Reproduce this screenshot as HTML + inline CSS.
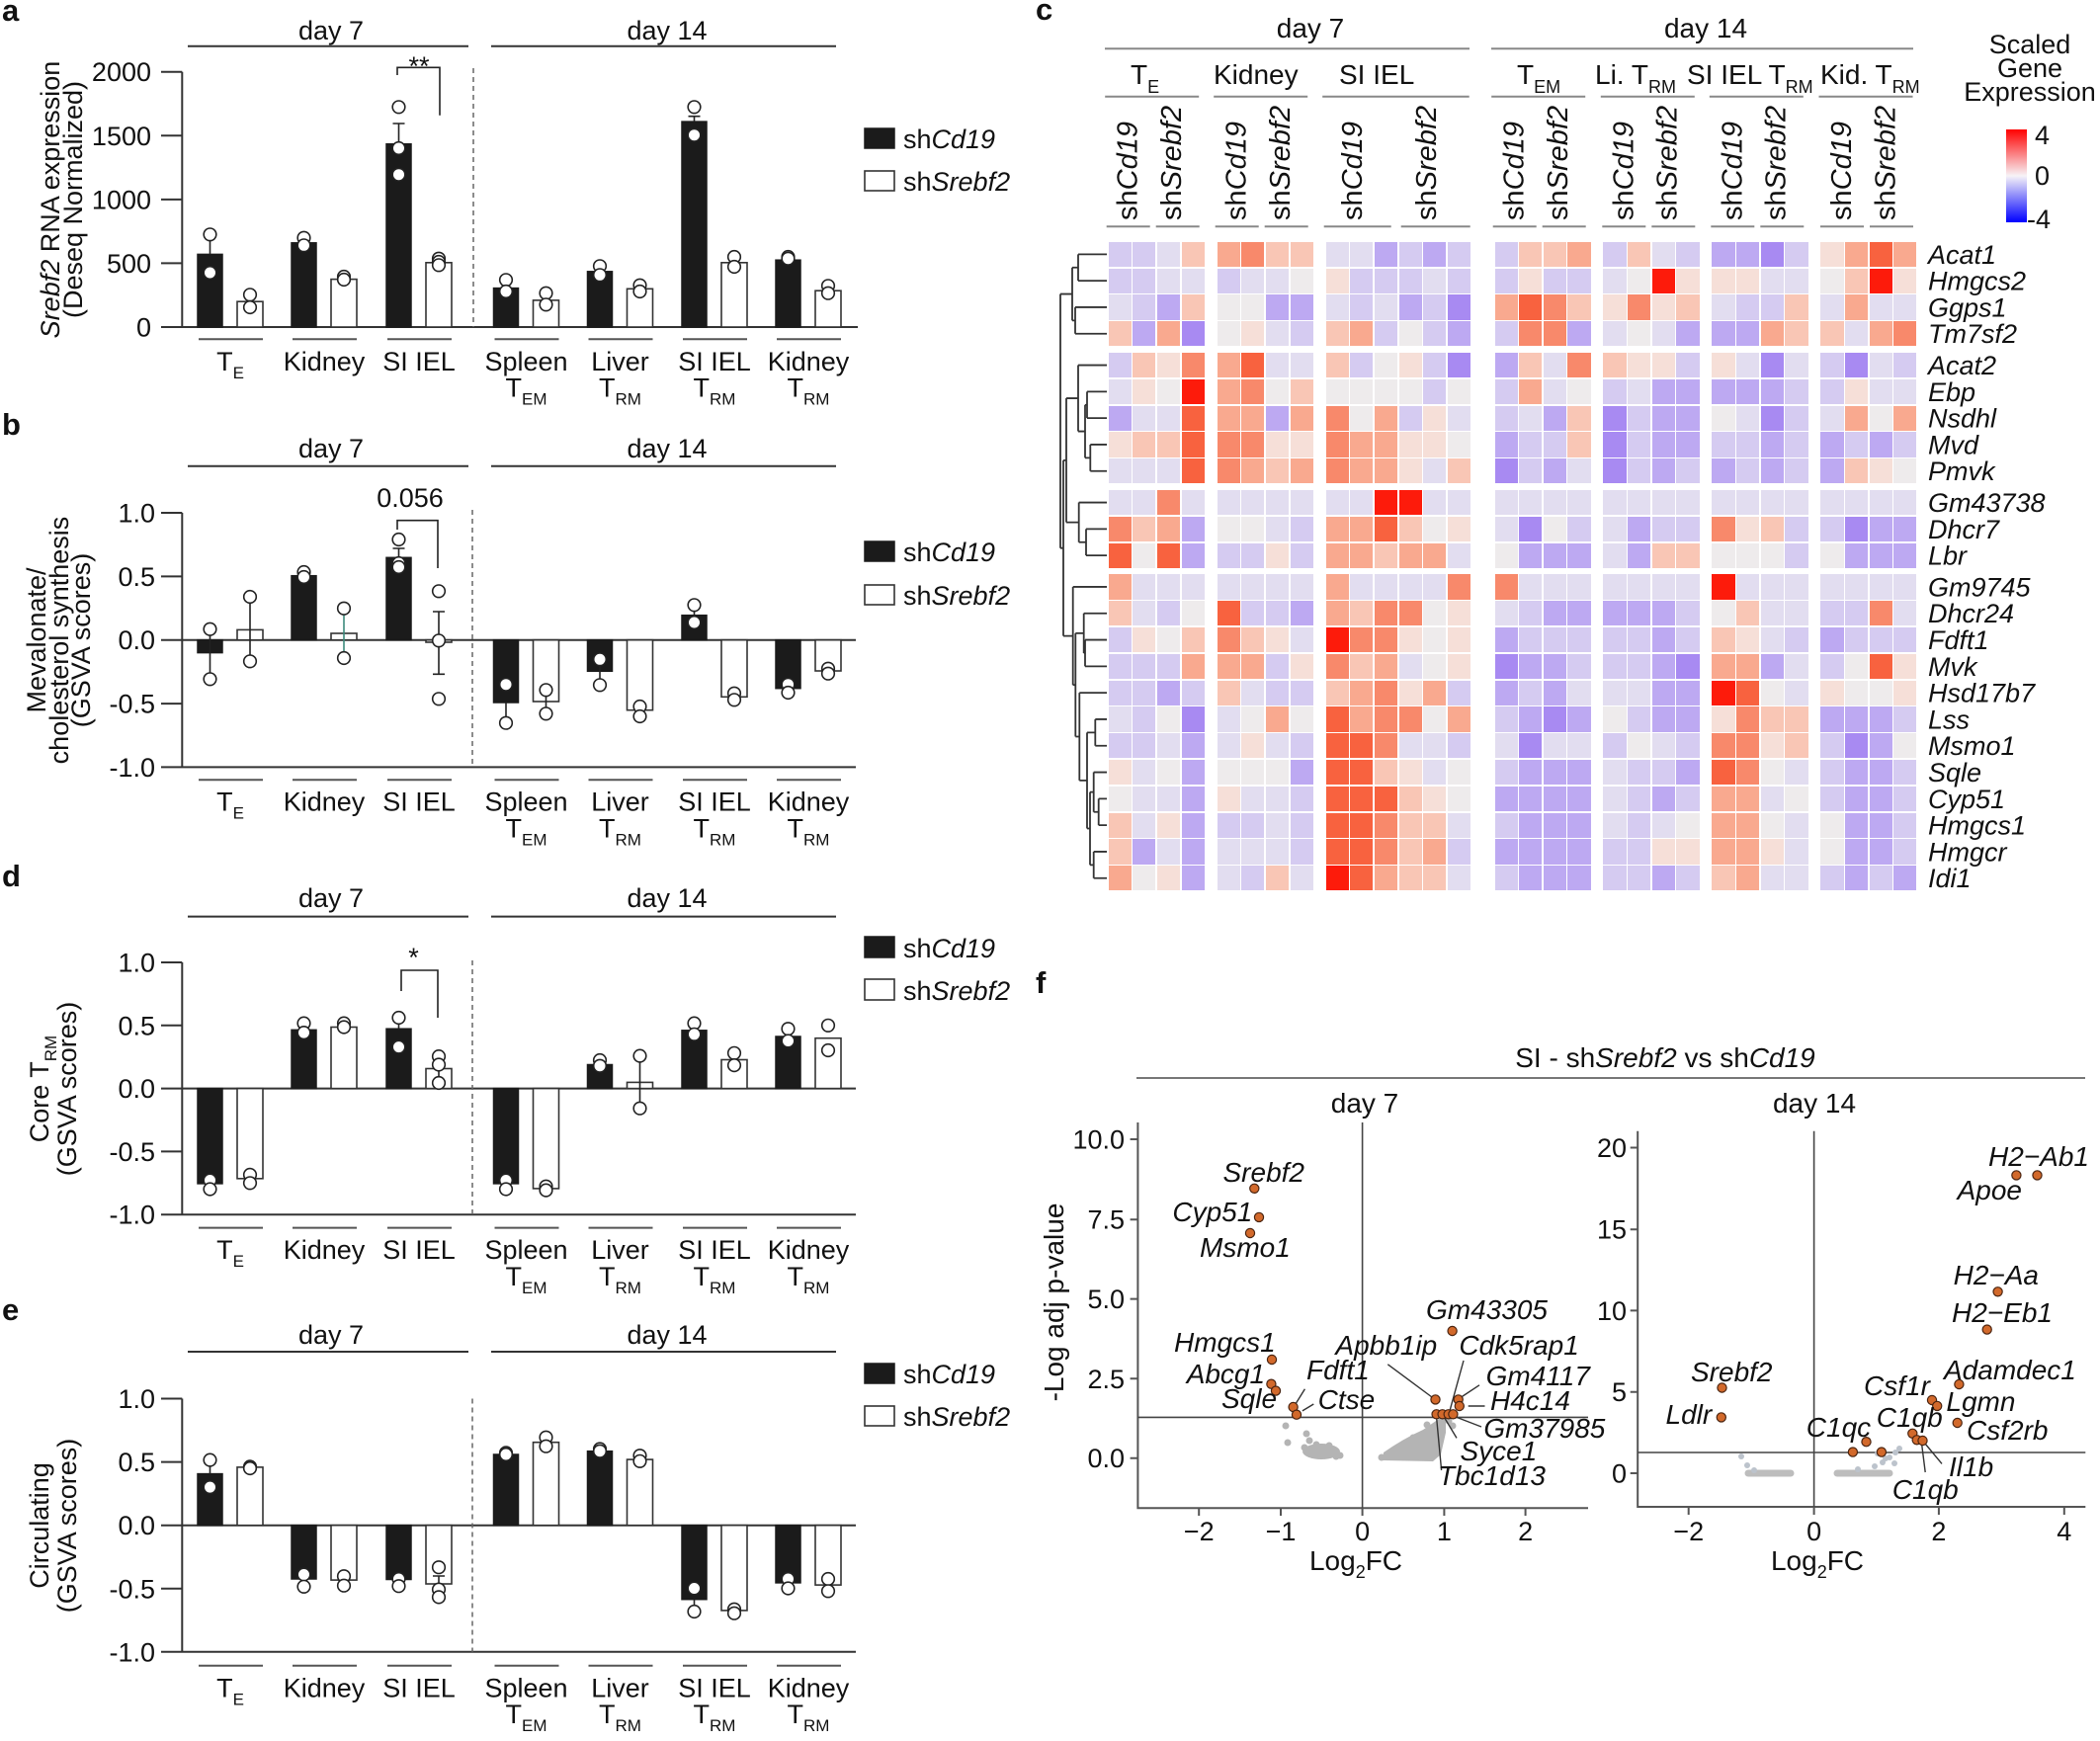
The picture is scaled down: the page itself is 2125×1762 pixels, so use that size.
<!DOCTYPE html>
<html><head><meta charset="utf-8"><style>
body{margin:0;background:#fff}
#w{position:relative;width:2125px;height:1762px;overflow:hidden;background:#fff}
svg{position:absolute;left:0;top:0}
text{font-family:"Liberation Sans",Arial,sans-serif;font-size:27px;fill:#111}
.m{text-anchor:middle}.e{text-anchor:end}.it{font-style:italic}
.pl{font-weight:bold;font-size:31px}
.ax{stroke:#333;stroke-width:2;fill:none}
.ln{stroke:#333;stroke-width:2;fill:none}
.gl{stroke:#555;stroke-width:2;fill:none}
.dash{stroke:#666;stroke-width:1.5;stroke-dasharray:5 4;fill:none}
.bk{fill:#1b1b1b;stroke:#1b1b1b;stroke-width:1.5}
.wh{fill:#fff;stroke:#333;stroke-width:1.6}
.pt{fill:#fff;stroke:#222;stroke-width:1.6}
.eb{stroke:#222;stroke-width:1.6;fill:none}
.hl{stroke:#888;stroke-width:2;fill:none}
.fx{stroke:#555;stroke-width:2;fill:none}
.op{fill:#d2692b;stroke:#4a2410;stroke-width:1.2}
.gp{fill:#b4b4b4}
.cn{stroke:#333;stroke-width:1.4;fill:none}
.f28{font-size:28px}
.cl{font-size:29px}
#hm{position:absolute;left:1121.7px;top:0}
#hm div{position:absolute;left:0;display:flex;height:25.3px}
#hm i{display:block;flex:none;width:23.15px;height:25.3px;margin-right:1.5px}
#hm i:nth-child(4),#hm i:nth-child(8),#hm i:nth-child(18),#hm i:nth-child(22),#hm i:nth-child(26){margin-right:12.9px}
#hm i:nth-child(14){margin-right:24.6px}
.a{background:#a88af2}.b{background:#bda9f2}.c{background:#d5cbf1}.d{background:#e2ddf0}.e{background:#eeebec}
.f{background:#f6dfd8}.g{background:#f9c6b5}.h{background:#f9a98f}.i{background:#f8896b}.j{background:#f8623f}.k{background:#fd1b0b}
</style></head><body><div id="w">
<svg width="2125" height="1762" viewBox="0 0 2125 1762">
<defs><linearGradient id="cb" x1="0" y1="0" x2="0" y2="1"><stop offset="0" stop-color="#ff0000"/><stop offset="0.5" stop-color="#f7f3f7"/><stop offset="1" stop-color="#0000ff"/></linearGradient></defs>

<!-- ================= PANEL A ================= -->
<text class="pl" x="2" y="21">a</text>
<text x="335" y="40" class="m">day 7</text>
<text x="675" y="40" class="m">day 14</text>
<path d="M190,46.7H474M497,46.7H846" class="ln"/>
<path d="M184.3,72.7V331M163,331H868M163,72.7H184.3M163,137.3H184.3M163,201.9H184.3M163,266.4H184.3" class="ax"/>
<path d="M479,69V331" class="dash"/>
<text x="153" y="82" class="e">2000</text><text x="153" y="146.8" class="e">1500</text><text x="153" y="211.4" class="e">1000</text><text x="153" y="275.9" class="e">500</text><text x="153" y="340.5" class="e">0</text>
<text transform="translate(60,202) rotate(-90)" class="m"><tspan class="it">Srebf2</tspan> RNA expression</text>
<text transform="translate(83,202) rotate(-90)" class="m">(Deseq Normalized)</text>
<rect x="200" y="257.4" width="25" height="73.6" class="bk"/><rect x="240" y="305.2" width="26" height="25.8" class="wh"/>
<rect x="295" y="245.8" width="25" height="85.2" class="bk"/><rect x="335" y="282.6" width="26" height="48.4" class="wh"/>
<rect x="391" y="145.7" width="25" height="185.3" class="bk"/><rect x="431" y="265.8" width="26" height="65.2" class="wh"/>
<rect x="499.5" y="291.6" width="25" height="39.4" class="bk"/><rect x="539.5" y="303.9" width="26" height="27.1" class="wh"/>
<rect x="594.5" y="274.8" width="25" height="56.2" class="bk"/><rect x="634.5" y="292.3" width="26" height="38.7" class="wh"/>
<rect x="690" y="123.1" width="25" height="207.9" class="bk"/><rect x="730" y="265.8" width="26" height="65.2" class="wh"/>
<rect x="785" y="263.2" width="25" height="67.8" class="bk"/><rect x="825" y="294.2" width="26" height="36.8" class="wh"/>
<path d="M212.5,257.4V237M206.5,237H218.5M403.5,145.7V125M397.5,125H409.5M702.5,123V117.7M696.5,117.7H708.5" class="eb"/>
<g class="pt">
<circle cx="212.5" cy="237.3" r="6.3"/><circle cx="212.5" cy="276" r="6.3"/><circle cx="253" cy="298.3" r="6.3"/><circle cx="253" cy="311" r="6.3"/>
<circle cx="307.5" cy="240.7" r="6.3"/><circle cx="307.5" cy="248.3" r="6.3"/><circle cx="348" cy="280" r="6.3"/><circle cx="348" cy="283" r="6.3"/>
<circle cx="403.5" cy="108.3" r="6.3"/><circle cx="403.5" cy="150" r="6.3"/><circle cx="403.5" cy="176.7" r="6.3"/><circle cx="444" cy="261.7" r="6.3"/><circle cx="444" cy="265" r="6.3"/><circle cx="444" cy="268.3" r="6.3"/>
<circle cx="512" cy="283.3" r="6.3"/><circle cx="512" cy="295" r="6.3"/><circle cx="552.5" cy="296.7" r="6.3"/><circle cx="552.5" cy="308.3" r="6.3"/>
<circle cx="607" cy="269.3" r="6.3"/><circle cx="607" cy="278.3" r="6.3"/><circle cx="647.5" cy="288.7" r="6.3"/><circle cx="647.5" cy="295" r="6.3"/>
<circle cx="702.5" cy="108.3" r="6.3"/><circle cx="702.5" cy="136.7" r="6.3"/><circle cx="743" cy="260" r="6.3"/><circle cx="743" cy="270" r="6.3"/>
<circle cx="797.5" cy="260" r="6.3"/><circle cx="797.5" cy="261.7" r="6.3"/><circle cx="838" cy="289.3" r="6.3"/><circle cx="838" cy="296.7" r="6.3"/>
</g>
<text x="424" y="76" class="m">**</text>
<path d="M402,76V68.3H445V116.7" class="eb"/>
<path d="M201,343.3H266M296,343.3H361M392,343.3H457M500.5,343.3H565.5M595.5,343.3H660.5M691,343.3H756M786,343.3H851" class="gl"/>
<text x="233" y="375" class="m">T<tspan font-size="17" dy="8">E</tspan></text>
<text x="328" y="375" class="m">Kidney</text><text x="424" y="375" class="m">SI IEL</text>
<text x="532.5" y="375" class="m">Spleen</text><text x="627.5" y="375" class="m">Liver</text><text x="723" y="375" class="m">SI IEL</text><text x="818" y="375" class="m">Kidney</text>
<text x="532.5" y="401.7" class="m">T<tspan font-size="17" dy="8">EM</tspan></text><text x="627.5" y="401.7" class="m">T<tspan font-size="17" dy="8">RM</tspan></text><text x="723" y="401.7" class="m">T<tspan font-size="17" dy="8">RM</tspan></text><text x="818" y="401.7" class="m">T<tspan font-size="17" dy="8">RM</tspan></text>
<rect x="875" y="130" width="30" height="20" class="bk"/><text x="914" y="150">sh<tspan class="it">Cd19</tspan></text>
<rect x="875" y="173" width="30" height="20" class="wh"/><text x="914" y="193">sh<tspan class="it">Srebf2</tspan></text>

<!-- ================= PANEL B ================= -->
<text class="pl" x="2" y="440">b</text>
<text x="335" y="463" class="m">day 7</text>
<text x="675" y="463" class="m">day 14</text>
<path d="M190,471.7H474M497,471.7H846" class="ln"/>
<path d="M184.3,519V776.4M163,647.7H866M163,776.4H866M163,519H184.3M163,583.4H184.3M163,712.1H184.3" class="ax"/>
<path d="M478,516V776.4" class="dash"/>
<text x="157" y="528.5" class="e">1.0</text><text x="157" y="592.9" class="e">0.5</text><text x="157" y="657.2" class="e">0.0</text><text x="157" y="721.6" class="e">-0.5</text><text x="157" y="785.9" class="e">-1.0</text>
<text transform="translate(46,648) rotate(-90)" class="m">Mevalonate/</text>
<text transform="translate(69,648) rotate(-90)" class="m">cholesterol synthesis</text>
<text transform="translate(91,648) rotate(-90)" class="m">(GSVA scores)</text>
<rect x="200" y="647.7" width="25" height="12.9" class="bk"/><rect x="240" y="637.4" width="26" height="10.3" class="wh"/>
<rect x="295" y="582.7" width="25" height="65" class="bk"/><rect x="335" y="641" width="26" height="6.7" class="wh"/>
<rect x="391" y="564.3" width="25" height="83.4" class="bk"/><rect x="431" y="647.7" width="26" height="2.3" class="wh"/>
<rect x="499.5" y="647.7" width="25" height="63.3" class="bk"/><rect x="539.5" y="647.7" width="26" height="62.3" class="wh"/>
<rect x="594.5" y="647.7" width="25" height="31.6" class="bk"/><rect x="634.5" y="647.7" width="26" height="71" class="wh"/>
<rect x="690" y="622.7" width="25" height="25" class="bk"/><rect x="730" y="647.7" width="26" height="57.6" class="wh"/>
<rect x="785" y="647.7" width="25" height="49" class="bk"/><rect x="825" y="647.7" width="26" height="31.3" class="wh"/>
<path d="M212.5,636.7V687.3M253,604V669.3M403.5,564.3V555M397.5,555H409.5M444,619V682.3M438,619H450M438,682.3H450M512,711V731.7M552.5,698V722M607,667V693M647.5,715V725M702.5,612V630M743,701V708M797.5,692.7V701M838,676.7V681.7" class="eb"/>
<path d="M348,615.7V666" stroke="#3d8b7d" stroke-width="1.6"/>
<g class="pt">
<circle cx="212.5" cy="636.7" r="6.3"/><circle cx="212.5" cy="687.3" r="6.3"/><circle cx="253" cy="604" r="6.3"/><circle cx="253" cy="669.3" r="6.3"/>
<circle cx="307.5" cy="579" r="6.3"/><circle cx="307.5" cy="584" r="6.3"/><circle cx="348" cy="615.7" r="6.3"/><circle cx="348" cy="666" r="6.3"/>
<circle cx="403.5" cy="546" r="6.3"/><circle cx="403.5" cy="570" r="6.3"/><circle cx="403.5" cy="574" r="6.3"/><circle cx="444" cy="598.3" r="6.3"/><circle cx="444" cy="648.3" r="6.3"/><circle cx="444" cy="707.3" r="6.3"/>
<circle cx="512" cy="692.7" r="6.3"/><circle cx="512" cy="731.7" r="6.3"/><circle cx="552.5" cy="698.3" r="6.3"/><circle cx="552.5" cy="722.3" r="6.3"/>
<circle cx="607" cy="667.3" r="6.3"/><circle cx="607" cy="693.3" r="6.3"/><circle cx="647.5" cy="715" r="6.3"/><circle cx="647.5" cy="725" r="6.3"/>
<circle cx="702.5" cy="612.3" r="6.3"/><circle cx="702.5" cy="630" r="6.3"/><circle cx="743" cy="701.7" r="6.3"/><circle cx="743" cy="708.3" r="6.3"/>
<circle cx="797.5" cy="692.7" r="6.3"/><circle cx="797.5" cy="701" r="6.3"/><circle cx="838" cy="676.7" r="6.3"/><circle cx="838" cy="681.7" r="6.3"/>
</g>
<text x="415" y="513" class="m">0.056</text>
<path d="M402,536V526.7H443V575" class="eb"/>
<path d="M201,789.3H266M296,789.3H361M392,789.3H457M500.5,789.3H565.5M595.5,789.3H660.5M691,789.3H756M786,789.3H851" class="gl"/>
<text x="233" y="820.5" class="m">T<tspan font-size="17" dy="8">E</tspan></text>
<text x="328" y="820.5" class="m">Kidney</text><text x="424" y="820.5" class="m">SI IEL</text>
<text x="532.5" y="820.5" class="m">Spleen</text><text x="627.5" y="820.5" class="m">Liver</text><text x="723" y="820.5" class="m">SI IEL</text><text x="818" y="820.5" class="m">Kidney</text>
<text x="532.5" y="847.5" class="m">T<tspan font-size="17" dy="8">EM</tspan></text><text x="627.5" y="847.5" class="m">T<tspan font-size="17" dy="8">RM</tspan></text><text x="723" y="847.5" class="m">T<tspan font-size="17" dy="8">RM</tspan></text><text x="818" y="847.5" class="m">T<tspan font-size="17" dy="8">RM</tspan></text>
<rect x="875" y="548" width="30" height="20" class="bk"/><text x="914" y="568">sh<tspan class="it">Cd19</tspan></text>
<rect x="875" y="592" width="30" height="20" class="wh"/><text x="914" y="612">sh<tspan class="it">Srebf2</tspan></text>

<!-- ================= PANEL D ================= -->
<text class="pl" x="2" y="897">d</text>
<text x="335" y="918" class="m">day 7</text>
<text x="675" y="918" class="m">day 14</text>
<path d="M190,927.6H474M497,927.6H846" class="ln"/>
<path d="M184.3,974V1229.2M163,1101.6H866M163,1229.2H866M163,974H184.3M163,1037.8H184.3M163,1165.4H184.3" class="ax"/>
<path d="M478,972V1229.2" class="dash"/>
<text x="157" y="983.5" class="e">1.0</text><text x="157" y="1047.3" class="e">0.5</text><text x="157" y="1111.1" class="e">0.0</text><text x="157" y="1174.9" class="e">-0.5</text><text x="157" y="1238.7" class="e">-1.0</text>
<text transform="translate(49,1102) rotate(-90)" class="m">Core T<tspan font-size="17" dy="8">RM</tspan></text>
<text transform="translate(77,1102) rotate(-90)" class="m">(GSVA scores)</text>
<rect x="200" y="1101.6" width="25" height="96.3" class="bk"/><rect x="240" y="1101.6" width="26" height="91.2" class="wh"/>
<rect x="295" y="1042.3" width="25" height="59.3" class="bk"/><rect x="335" y="1039.5" width="26" height="62.1" class="wh"/>
<rect x="391" y="1041.2" width="25" height="60.4" class="bk"/><rect x="431" y="1081.5" width="26" height="20.1" class="wh"/>
<rect x="499.5" y="1101.6" width="25" height="96.3" class="bk"/><rect x="539.5" y="1101.6" width="26" height="101.3" class="wh"/>
<rect x="594.5" y="1077.5" width="25" height="24.1" class="bk"/><rect x="634.5" y="1095.4" width="26" height="6.2" class="wh"/>
<rect x="690" y="1042.8" width="25" height="58.8" class="bk"/><rect x="730" y="1072.5" width="26" height="29.1" class="wh"/>
<rect x="785" y="1049" width="25" height="52.6" class="bk"/><rect x="825" y="1050.7" width="26" height="50.9" class="wh"/>
<path d="M444,1069V1096M647.5,1068.6V1121.7M641.5,1068.6H653.5M641.5,1121.7H653.5M403.5,1030V1041M212.5,1194.5V1203.5M743,1065.8V1078.1" class="eb"/>
<g class="pt">
<circle cx="212.5" cy="1194.5" r="6.3"/><circle cx="212.5" cy="1203.5" r="6.3"/><circle cx="253" cy="1188.9" r="6.3"/><circle cx="253" cy="1197.3" r="6.3"/>
<circle cx="307.5" cy="1035.6" r="6.3"/><circle cx="307.5" cy="1045.1" r="6.3"/><circle cx="348" cy="1035.6" r="6.3"/><circle cx="348" cy="1039.5" r="6.3"/>
<circle cx="403.5" cy="1030" r="6.3"/><circle cx="403.5" cy="1059.6" r="6.3"/><circle cx="444" cy="1069.1" r="6.3"/><circle cx="444" cy="1077.5" r="6.3"/><circle cx="444" cy="1096" r="6.3"/>
<circle cx="512" cy="1194.5" r="6.3"/><circle cx="512" cy="1203.5" r="6.3"/><circle cx="552.5" cy="1200.7" r="6.3"/><circle cx="552.5" cy="1204.6" r="6.3"/>
<circle cx="607" cy="1073" r="6.3"/><circle cx="607" cy="1078.7" r="6.3"/><circle cx="647.5" cy="1068.6" r="6.3"/><circle cx="647.5" cy="1121.7" r="6.3"/>
<circle cx="702.5" cy="1035.6" r="6.3"/><circle cx="702.5" cy="1046.8" r="6.3"/><circle cx="743" cy="1065.8" r="6.3"/><circle cx="743" cy="1078.1" r="6.3"/>
<circle cx="797.5" cy="1041.2" r="6.3"/><circle cx="797.5" cy="1053.5" r="6.3"/><circle cx="838" cy="1037.8" r="6.3"/><circle cx="838" cy="1063" r="6.3"/>
</g>
<text x="418.5" y="978" class="m">*</text>
<path d="M406,1003V982H443V1030" class="eb"/>
<path d="M201,1242.6H266M296,1242.6H361M392,1242.6H457M500.5,1242.6H565.5M595.5,1242.6H660.5M691,1242.6H756M786,1242.6H851" class="gl"/>
<text x="233" y="1274" class="m">T<tspan font-size="17" dy="8">E</tspan></text>
<text x="328" y="1274" class="m">Kidney</text><text x="424" y="1274" class="m">SI IEL</text>
<text x="532.5" y="1274" class="m">Spleen</text><text x="627.5" y="1274" class="m">Liver</text><text x="723" y="1274" class="m">SI IEL</text><text x="818" y="1274" class="m">Kidney</text>
<text x="532.5" y="1301" class="m">T<tspan font-size="17" dy="8">EM</tspan></text><text x="627.5" y="1301" class="m">T<tspan font-size="17" dy="8">RM</tspan></text><text x="723" y="1301" class="m">T<tspan font-size="17" dy="8">RM</tspan></text><text x="818" y="1301" class="m">T<tspan font-size="17" dy="8">RM</tspan></text>
<rect x="875" y="948" width="30" height="21" class="bk"/><text x="914" y="969">sh<tspan class="it">Cd19</tspan></text>
<rect x="875" y="991" width="30" height="21" class="wh"/><text x="914" y="1012">sh<tspan class="it">Srebf2</tspan></text>

<!-- ================= PANEL E ================= -->
<text class="pl" x="2" y="1336">e</text>
<text x="335" y="1360" class="m">day 7</text>
<text x="675" y="1360" class="m">day 14</text>
<path d="M190,1368H474M497,1368H846" class="ln"/>
<path d="M184.3,1415.5V1671.8M163,1543.7H866M163,1671.8H866M163,1415.5H184.3M163,1479.6H184.3M163,1607.8H184.3" class="ax"/>
<path d="M478,1415.5V1671.8" class="dash"/>
<text x="157" y="1425" class="e">1.0</text><text x="157" y="1489.1" class="e">0.5</text><text x="157" y="1553.2" class="e">0.0</text><text x="157" y="1617.3" class="e">-0.5</text><text x="157" y="1681.3" class="e">-1.0</text>
<text transform="translate(49,1544) rotate(-90)" class="m">Circulating</text>
<text transform="translate(77,1544) rotate(-90)" class="m">(GSVA scores)</text>
<rect x="200" y="1491.6" width="25" height="52.1" class="bk"/><rect x="240" y="1484.9" width="26" height="58.8" class="wh"/>
<rect x="295" y="1543.7" width="25" height="54.3" class="bk"/><rect x="335" y="1543.7" width="26" height="55.4" class="wh"/>
<rect x="391" y="1543.7" width="25" height="54.8" class="bk"/><rect x="431" y="1543.7" width="26" height="59.3" class="wh"/>
<rect x="499.5" y="1472" width="25" height="71.7" class="bk"/><rect x="539.5" y="1459.7" width="26" height="84" class="wh"/>
<rect x="594.5" y="1468.7" width="25" height="75" class="bk"/><rect x="634.5" y="1477.1" width="26" height="66.6" class="wh"/>
<rect x="690" y="1543.7" width="25" height="75" class="bk"/><rect x="730" y="1543.7" width="26" height="86.2" class="wh"/>
<rect x="785" y="1543.7" width="25" height="58.2" class="bk"/><rect x="825" y="1543.7" width="26" height="60.4" class="wh"/>
<path d="M212.5,1491.6V1477.6M206.5,1477.6H218.5M444,1595V1616.4M438,1595H450M702.5,1618.7V1631M696.5,1631H708.5" class="eb"/>
<g class="pt">
<circle cx="212.5" cy="1477.6" r="6.3"/><circle cx="212.5" cy="1505.1" r="6.3"/><circle cx="253" cy="1484.4" r="6.3"/><circle cx="253" cy="1486" r="6.3"/>
<circle cx="307.5" cy="1593.5" r="6.3"/><circle cx="307.5" cy="1605.8" r="6.3"/><circle cx="348" cy="1595.2" r="6.3"/><circle cx="348" cy="1604.7" r="6.3"/>
<circle cx="403.5" cy="1598" r="6.3"/><circle cx="403.5" cy="1605.2" r="6.3"/><circle cx="444" cy="1586.2" r="6.3"/><circle cx="444" cy="1608.6" r="6.3"/><circle cx="444" cy="1616.4" r="6.3"/>
<circle cx="512" cy="1470.4" r="6.3"/><circle cx="512" cy="1472" r="6.3"/><circle cx="552.5" cy="1454.7" r="6.3"/><circle cx="552.5" cy="1463.7" r="6.3"/>
<circle cx="607" cy="1466.5" r="6.3"/><circle cx="607" cy="1468.7" r="6.3"/><circle cx="647.5" cy="1473.2" r="6.3"/><circle cx="647.5" cy="1478.8" r="6.3"/>
<circle cx="702.5" cy="1607.5" r="6.3"/><circle cx="702.5" cy="1631" r="6.3"/><circle cx="743" cy="1628.7" r="6.3"/><circle cx="743" cy="1632.7" r="6.3"/>
<circle cx="797.5" cy="1598" r="6.3"/><circle cx="797.5" cy="1607.5" r="6.3"/><circle cx="838" cy="1598" r="6.3"/><circle cx="838" cy="1610.3" r="6.3"/>
</g>
<path d="M201,1685.8H266M296,1685.8H361M392,1685.8H457M500.5,1685.8H565.5M595.5,1685.8H660.5M691,1685.8H756M786,1685.8H851" class="gl"/>
<text x="233" y="1717.5" class="m">T<tspan font-size="17" dy="8">E</tspan></text>
<text x="328" y="1717.5" class="m">Kidney</text><text x="424" y="1717.5" class="m">SI IEL</text>
<text x="532.5" y="1717.5" class="m">Spleen</text><text x="627.5" y="1717.5" class="m">Liver</text><text x="723" y="1717.5" class="m">SI IEL</text><text x="818" y="1717.5" class="m">Kidney</text>
<text x="532.5" y="1744" class="m">T<tspan font-size="17" dy="8">EM</tspan></text><text x="627.5" y="1744" class="m">T<tspan font-size="17" dy="8">RM</tspan></text><text x="723" y="1744" class="m">T<tspan font-size="17" dy="8">RM</tspan></text><text x="818" y="1744" class="m">T<tspan font-size="17" dy="8">RM</tspan></text>
<rect x="875" y="1380" width="30" height="20" class="bk"/><text x="914" y="1400">sh<tspan class="it">Cd19</tspan></text>
<rect x="875" y="1423" width="30" height="20" class="wh"/><text x="914" y="1443">sh<tspan class="it">Srebf2</tspan></text>

<!-- ================= PANEL C (header) ================= -->
<text class="pl" x="1048" y="20">c</text>
<text x="1326" y="38" class="m f28">day 7</text>
<text x="1726" y="38" class="m f28">day 14</text>
<path d="M1118,49.3H1487M1509,49.3H1936" class="hl"/>
<text x="1144" y="85" class="f28">T<tspan font-size="18" dy="9">E</tspan></text>
<text x="1228" y="85" class="f28">Kidney</text>
<text x="1355" y="85" class="f28">SI IEL</text>
<text x="1535" y="85" class="f28">T<tspan font-size="18" dy="9">EM</tspan></text>
<text x="1614" y="85" class="f28">Li. T<tspan font-size="18" dy="9">RM</tspan></text>
<text x="1707" y="85" class="f28">SI IEL T<tspan font-size="18" dy="9">RM</tspan></text>
<text x="1842" y="85" class="f28">Kid. T<tspan font-size="18" dy="9">RM</tspan></text>
<path d="M1118.2,97.7H1213.2M1228.2,97.7H1323.2M1338.2,97.7H1486.7M1509.2,97.7H1604.2M1619.8,97.7H1714.8M1729.8,97.7H1824.8M1840.5,97.7H1935.5" class="hl"/>
<g class="cl">
<text class="cl" transform="translate(1150.7,223) rotate(-90)">sh<tspan class="it">Cd19</tspan></text>
<text class="cl" transform="translate(1195,223) rotate(-90)">sh<tspan class="it">Srebf2</tspan></text>
<text class="cl" transform="translate(1260.7,223) rotate(-90)">sh<tspan class="it">Cd19</tspan></text>
<text class="cl" transform="translate(1305,223) rotate(-90)">sh<tspan class="it">Srebf2</tspan></text>
<text class="cl" transform="translate(1378,223) rotate(-90)">sh<tspan class="it">Cd19</tspan></text>
<text class="cl" transform="translate(1453,223) rotate(-90)">sh<tspan class="it">Srebf2</tspan></text>
<text class="cl" transform="translate(1541.7,223) rotate(-90)">sh<tspan class="it">Cd19</tspan></text>
<text class="cl" transform="translate(1586,223) rotate(-90)">sh<tspan class="it">Srebf2</tspan></text>
<text class="cl" transform="translate(1652.3,223) rotate(-90)">sh<tspan class="it">Cd19</tspan></text>
<text class="cl" transform="translate(1696.6,223) rotate(-90)">sh<tspan class="it">Srebf2</tspan></text>
<text class="cl" transform="translate(1762.3,223) rotate(-90)">sh<tspan class="it">Cd19</tspan></text>
<text class="cl" transform="translate(1806.6,223) rotate(-90)">sh<tspan class="it">Srebf2</tspan></text>
<text class="cl" transform="translate(1873,223) rotate(-90)">sh<tspan class="it">Cd19</tspan></text>
<text class="cl" transform="translate(1917.3,223) rotate(-90)">sh<tspan class="it">Srebf2</tspan></text>
</g>
<path d="M1119.7,229.3H1163.7M1169.7,229.3H1213.7M1229.7,229.3H1273.7M1279.7,229.3H1323.7M1339.7,229.3H1407.7M1417.7,229.3H1487.7M1510.7,229.3H1554.7M1560.7,229.3H1604.7M1621.3,229.3H1665.3M1671.3,229.3H1715.3M1731.3,229.3H1775.3M1781.3,229.3H1825.3M1842,229.3H1886M1892,229.3H1936" class="hl"/>
<text x="2054" y="54" class="m">Scaled</text>
<text x="2054" y="78" class="m">Gene</text>
<text x="2054" y="102" class="m">Expression</text>
<rect x="2030" y="131" width="21" height="94" fill="url(#cb)"/>
<text x="2059" y="146">4</text><text x="2059" y="187">0</text><text x="2051" y="231">-4</text>

<!-- dendrogram -->
<path stroke="#333" stroke-width="1.8" fill="none" d="M1091,257.35H1120M1091,284.15H1120M1091,257.35V284.15M1088,310.95H1120M1088,337.75H1120M1088,310.95V337.75M1085,270.75H1091M1085,324.35H1088M1085,270.75V324.35
M1100,396.35H1120M1100,423.15H1120M1100,396.35V423.15M1103.3,449.95H1120M1103.3,476.75H1120M1103.3,449.95V476.75M1098,409.75H1100M1098,463.35H1103.3M1098,409.75V463.35M1091,369.55H1120M1091,436.55H1098M1091,369.55V436.55
M1099,535.35H1120M1099,562.15H1120M1099,535.35V562.15M1091.7,508.55H1120M1091.7,548.75H1099M1091.7,508.55V548.75
M1098,647.55H1120M1098,674.35H1120M1098,647.55V674.35M1096.7,620.75H1120M1096.7,660.95H1098M1096.7,620.75V660.95
M1108.3,727.95H1120M1108.3,754.75H1120M1108.3,727.95V754.75M1111.7,808.35H1120M1111.7,835.15H1120M1111.7,808.35V835.15M1106.7,781.55H1120M1106.7,821.75H1111.7M1106.7,781.55V821.75M1106.7,861.95H1120M1106.7,888.75H1120M1106.7,861.95V888.75M1103,801.65H1106.7M1103,875.35H1106.7M1103,801.65V875.35M1100,741.35H1108.3M1100,838.5H1103M1100,741.35V838.5M1092.3,701.15H1120M1092.3,789.9H1100M1092.3,701.15V789.9M1088.3,640.85H1096.7M1088.3,745.5H1092.3M1088.3,640.85V745.5M1085.7,593.95H1120M1085.7,693.2H1088.3M1085.7,593.95V693.2
M1079,403.05H1091M1079,528.65H1091.7M1079,403.05V528.65M1076,465.85H1079M1076,643.6H1085.7M1076,465.85V643.6M1073,297.55H1085M1073,554.7H1076M1073,297.55V554.7"/>

<!-- gene labels -->
<g class="it">
<text x="1951" y="266.8">Acat1</text><text x="1951" y="293.6">Hmgcs2</text><text x="1951" y="320.4">Ggps1</text><text x="1951" y="347.2">Tm7sf2</text>
<text x="1951" y="379">Acat2</text><text x="1951" y="405.8">Ebp</text><text x="1951" y="432.6">Nsdhl</text><text x="1951" y="459.4">Mvd</text><text x="1951" y="486.2">Pmvk</text>
<text x="1951" y="518">Gm43738</text><text x="1951" y="544.8">Dhcr7</text><text x="1951" y="571.6">Lbr</text>
<text x="1951" y="603.4">Gm9745</text><text x="1951" y="630.2">Dhcr24</text><text x="1951" y="657">Fdft1</text><text x="1951" y="683.8">Mvk</text><text x="1951" y="710.6">Hsd17b7</text><text x="1951" y="737.4">Lss</text><text x="1951" y="764.2">Msmo1</text><text x="1951" y="791">Sqle</text><text x="1951" y="817.8">Cyp51</text><text x="1951" y="844.6">Hmgcs1</text><text x="1951" y="871.4">Hmgcr</text><text x="1951" y="898.2">Idi1</text>
</g>

<!-- ================= PANEL F ================= -->
<text class="pl" x="1048" y="1005">f</text>
<text x="1685" y="1080" class="m f28">SI - sh<tspan class="it">Srebf2</tspan> vs sh<tspan class="it">Cd19</tspan></text>
<path d="M1150,1091H2110" stroke="#777" stroke-width="2"/>
<text x="1381" y="1126" class="m f28">day 7</text>
<text x="1836" y="1126" class="m f28">day 14</text>
<path d="M1151.4,1136V1526.2H1607M1143.6,1153H1151.4M1143.6,1234.2H1151.4M1143.6,1314.6H1151.4M1143.6,1395.3H1151.4M1143.6,1475.7H1151.4M1213.2,1526.2V1534M1296,1526.2V1534M1378.6,1526.2V1534M1461.4,1526.2V1534M1543.6,1526.2V1534" class="fx"/>
<path d="M1378.6,1136V1526.2M1151.4,1434.4H1607" stroke="#444" stroke-width="1.6"/>
<text x="1138" y="1162.5" class="e">10.0</text><text x="1138" y="1243.7" class="e">7.5</text><text x="1138" y="1324" class="e">5.0</text><text x="1138" y="1404.8" class="e">2.5</text><text x="1138" y="1485.2" class="e">0.0</text>
<text x="1213.2" y="1559" class="m">−2</text><text x="1296" y="1559" class="m">−1</text><text x="1378.6" y="1559" class="m">0</text><text x="1461.4" y="1559" class="m">1</text><text x="1543.6" y="1559" class="m">2</text>
<text x="1372" y="1589" class="m f28">Log<tspan font-size="18" dy="8">2</tspan><tspan dy="-8">FC</tspan></text>
<text transform="translate(1076,1318) rotate(-90)" class="m f28">-Log adj p-value</text>
<g class="gp">
<circle cx="1301" cy="1443" r="3.5"/><circle cx="1303" cy="1460" r="3.5"/><circle cx="1322" cy="1451" r="3.5"/>
<ellipse cx="1337" cy="1469" rx="19" ry="8"/>
<circle cx="1320" cy="1465" r="3.5"/><circle cx="1325" cy="1458" r="3.5"/><circle cx="1332" cy="1462" r="3.5"/><circle cx="1345" cy="1463" r="3.5"/><circle cx="1352" cy="1474" r="3.5"/><circle cx="1356" cy="1473" r="3.5"/>
<path d="M1399,1478L1400,1470Q1420,1456 1440,1447L1456,1436L1463,1434L1463,1450L1458,1472L1450,1479Z"/>
<circle cx="1398" cy="1475" r="3.5"/><circle cx="1430" cy="1455" r="3.5"/><circle cx="1444" cy="1442" r="3.5"/><circle cx="1466" cy="1438" r="3.5"/><circle cx="1470" cy="1443" r="3.5"/><circle cx="1460" cy="1434" r="3.5"/>
</g>
<path class="cn" d="M1311.4,1420.2L1320.4,1405.7M1317.9,1427.9L1329.3,1421M1404.3,1380.8L1449,1414M1481,1377L1466.8,1428.6M1497,1401.8L1478.6,1414M1485.7,1423H1502.5M1474,1434.4L1499,1444M1461.4,1434.4L1474,1455.4M1453.6,1434.4L1458.6,1488"/>
<g class="op">
<circle cx="1269.3" cy="1202.8" r="4.6"/><circle cx="1274" cy="1231.9" r="4.6"/><circle cx="1265" cy="1248" r="4.6"/>
<circle cx="1287" cy="1376" r="4.6"/><circle cx="1286.4" cy="1400.7" r="4.6"/><circle cx="1291" cy="1407.6" r="4.6"/><circle cx="1308.6" cy="1424" r="4.6"/><circle cx="1312" cy="1431.7" r="4.6"/>
<circle cx="1469.6" cy="1347" r="4.6"/><circle cx="1452.5" cy="1416.4" r="4.6"/><circle cx="1475.7" cy="1416.4" r="4.6"/><circle cx="1476.8" cy="1423" r="4.6"/>
<circle cx="1453.6" cy="1431.3" r="4.6"/><circle cx="1459.6" cy="1431.3" r="4.6"/><circle cx="1465.7" cy="1431.3" r="4.6"/><circle cx="1470.4" cy="1431.3" r="4.6"/>
</g>
<g class="it">
<text x="1237.5" y="1196" class="f28">Srebf2</text><text x="1186.4" y="1236" class="f28">Cyp51</text><text x="1214" y="1272" class="f28">Msmo1</text>
<text x="1188" y="1368" class="f28">Hmgcs1</text><text x="1200.7" y="1400" class="f28">Abcg1</text><text x="1236" y="1425" class="f28">Sqle</text>
<text x="1322" y="1396" class="f28">Fdft1</text><text x="1333.6" y="1426" class="f28">Ctse</text>
<text x="1443" y="1335" class="f28">Gm43305</text><text x="1351.4" y="1371" class="f28">Apbb1ip</text><text x="1476.4" y="1371" class="f28">Cdk5rap1</text>
<text x="1503.6" y="1402" class="f28">Gm4117</text><text x="1508" y="1427" class="f28">H4c14</text><text x="1501.4" y="1455" class="f28">Gm37985</text>
<text x="1477.5" y="1478" class="f28">Syce1</text><text x="1455" y="1503" class="f28">Tbc1d13</text>
</g>
<path d="M1657.2,1144.7V1525H2110.3M1649.7,1161.5H1657.2M1649.7,1244.2H1657.2M1649.7,1326.4H1657.2M1649.7,1408.7H1657.2M1649.7,1491H1657.2M1708.7,1525V1533M1835.6,1525V1533M1961.9,1525V1533M2088.8,1525V1533" class="fx"/>
<path d="M1835.6,1144.7V1525M1657.2,1470H2110.3" stroke="#444" stroke-width="1.6"/>
<text x="1646" y="1171" class="e">20</text><text x="1646" y="1253.7" class="e">15</text><text x="1646" y="1336" class="e">10</text><text x="1646" y="1418" class="e">5</text><text x="1646" y="1500.5" class="e">0</text>
<text x="1708.7" y="1559" class="m">−2</text><text x="1835.6" y="1559" class="m">0</text><text x="1961.9" y="1559" class="m">2</text><text x="2088.8" y="1559" class="m">4</text>
<text x="1839" y="1589" class="m f28">Log<tspan font-size="18" dy="8">2</tspan><tspan dy="-8">FC</tspan></text>
<path d="M1769,1491H1812M1859,1491H1912" stroke="#bdbdbd" stroke-width="7" stroke-linecap="round"/>
<g fill="#bcc3cc">
<circle cx="1762" cy="1474" r="3"/><circle cx="1768" cy="1483" r="3"/><circle cx="1775" cy="1488" r="3"/><circle cx="1880" cy="1487" r="3"/><circle cx="1897" cy="1484" r="3"/><circle cx="1905" cy="1480" r="3"/><circle cx="1912" cy="1475" r="3"/><circle cx="1918" cy="1470" r="3"/><circle cx="1908" cy="1476" r="3"/><circle cx="1922" cy="1466" r="3"/><circle cx="1900" cy="1471" r="3"/><circle cx="1917" cy="1481" r="3"/>
</g>
<path class="cn" d="M1948,1461L1965,1481.4M1944.8,1463L1948.2,1490"/>
<g class="op">
<circle cx="2061.5" cy="1189.4" r="4.6"/><circle cx="2040.4" cy="1189.4" r="4.6"/><circle cx="2021.6" cy="1307.3" r="4.6"/><circle cx="2010.7" cy="1345.6" r="4.6"/>
<circle cx="1982.4" cy="1401" r="4.6"/><circle cx="1955" cy="1417" r="4.6"/><circle cx="1960.2" cy="1422.9" r="4.6"/><circle cx="1980.7" cy="1440" r="4.6"/>
<circle cx="1935.3" cy="1450.8" r="4.6"/><circle cx="1939.7" cy="1457.3" r="4.6"/><circle cx="1945.5" cy="1458" r="4.6"/><circle cx="1888.5" cy="1459.2" r="4.6"/>
<circle cx="1874.9" cy="1469.6" r="4.6"/><circle cx="1903.9" cy="1469.6" r="4.6"/><circle cx="1742.5" cy="1404.5" r="4.6"/><circle cx="1741.8" cy="1434.4" r="4.6"/>
</g>
<g class="it">
<text x="2012" y="1180" class="f28">H2−Ab1</text><text x="1980.6" y="1214" class="f28">Apoe</text><text x="1976.6" y="1300" class="f28">H2−Aa</text><text x="1975" y="1338" class="f28">H2−Eb1</text>
<text x="1967" y="1396" class="f28">Adamdec1</text><text x="1886" y="1412" class="f28">Csf1r</text><text x="1969.4" y="1428" class="f28">Lgmn</text><text x="1990" y="1457" class="f28">Csf2rb</text>
<text x="1898.8" y="1444" class="f28">C1qb</text><text x="1827.8" y="1454" class="f28">C1qc</text><text x="1972" y="1494" class="f28">Il1b</text><text x="1914.8" y="1517" class="f28">C1qb</text>
<text x="1711" y="1398" class="f28">Srebf2</text><text x="1685.5" y="1441" class="f28">Ldlr</text>
</g>
</svg>

<div id="hm">
<div style="top:244.7px"><i class=c></i><i class=c></i><i class=d></i><i class=g></i><i class=h></i><i class=i></i><i class=g></i><i class=g></i><i class=d></i><i class=d></i><i class=b></i><i class=c></i><i class=b></i><i class=c></i><i class=c></i><i class=g></i><i class=g></i><i class=h></i><i class=c></i><i class=g></i><i class=d></i><i class=c></i><i class=b></i><i class=b></i><i class=a></i><i class=c></i><i class=f></i><i class=h></i><i class=j></i><i class=h></i></div>
<div style="top:271.5px"><i class=c></i><i class=c></i><i class=d></i><i class=d></i><i class=c></i><i class=d></i><i class=d></i><i class=e></i><i class=f></i><i class=c></i><i class=c></i><i class=c></i><i class=d></i><i class=c></i><i class=c></i><i class=f></i><i class=c></i><i class=c></i><i class=d></i><i class=e></i><i class=k></i><i class=f></i><i class=f></i><i class=f></i><i class=d></i><i class=d></i><i class=e></i><i class=g></i><i class=k></i><i class=f></i></div>
<div style="top:298.3px"><i class=d></i><i class=c></i><i class=b></i><i class=g></i><i class=e></i><i class=e></i><i class=b></i><i class=b></i><i class=d></i><i class=c></i><i class=d></i><i class=b></i><i class=c></i><i class=a></i><i class=h></i><i class=j></i><i class=i></i><i class=g></i><i class=f></i><i class=i></i><i class=f></i><i class=g></i><i class=d></i><i class=c></i><i class=c></i><i class=g></i><i class=d></i><i class=h></i><i class=d></i><i class=d></i></div>
<div style="top:325.1px"><i class=g></i><i class=b></i><i class=h></i><i class=a></i><i class=e></i><i class=f></i><i class=d></i><i class=c></i><i class=g></i><i class=h></i><i class=c></i><i class=e></i><i class=c></i><i class=b></i><i class=c></i><i class=i></i><i class=i></i><i class=b></i><i class=d></i><i class=e></i><i class=d></i><i class=b></i><i class=b></i><i class=b></i><i class=h></i><i class=g></i><i class=g></i><i class=d></i><i class=h></i><i class=i></i></div>
<div style="top:356.9px"><i class=c></i><i class=g></i><i class=f></i><i class=i></i><i class=h></i><i class=j></i><i class=d></i><i class=d></i><i class=g></i><i class=c></i><i class=e></i><i class=f></i><i class=c></i><i class=a></i><i class=b></i><i class=g></i><i class=d></i><i class=i></i><i class=g></i><i class=f></i><i class=f></i><i class=c></i><i class=f></i><i class=d></i><i class=a></i><i class=d></i><i class=c></i><i class=a></i><i class=d></i><i class=c></i></div>
<div style="top:383.7px"><i class=d></i><i class=f></i><i class=e></i><i class=k></i><i class=h></i><i class=i></i><i class=e></i><i class=g></i><i class=e></i><i class=e></i><i class=e></i><i class=e></i><i class=c></i><i class=e></i><i class=c></i><i class=h></i><i class=d></i><i class=e></i><i class=c></i><i class=d></i><i class=b></i><i class=b></i><i class=b></i><i class=b></i><i class=b></i><i class=c></i><i class=c></i><i class=f></i><i class=d></i><i class=d></i></div>
<div style="top:410.5px"><i class=b></i><i class=d></i><i class=d></i><i class=j></i><i class=h></i><i class=h></i><i class=b></i><i class=h></i><i class=i></i><i class=e></i><i class=h></i><i class=c></i><i class=f></i><i class=d></i><i class=c></i><i class=d></i><i class=b></i><i class=g></i><i class=a></i><i class=c></i><i class=b></i><i class=b></i><i class=e></i><i class=d></i><i class=a></i><i class=c></i><i class=d></i><i class=h></i><i class=e></i><i class=h></i></div>
<div style="top:437.3px"><i class=f></i><i class=g></i><i class=g></i><i class=j></i><i class=i></i><i class=i></i><i class=f></i><i class=f></i><i class=i></i><i class=h></i><i class=h></i><i class=f></i><i class=f></i><i class=e></i><i class=b></i><i class=c></i><i class=c></i><i class=g></i><i class=a></i><i class=c></i><i class=b></i><i class=b></i><i class=c></i><i class=c></i><i class=b></i><i class=c></i><i class=b></i><i class=c></i><i class=b></i><i class=c></i></div>
<div style="top:464.1px"><i class=d></i><i class=d></i><i class=d></i><i class=j></i><i class=i></i><i class=h></i><i class=g></i><i class=h></i><i class=i></i><i class=h></i><i class=h></i><i class=f></i><i class=d></i><i class=g></i><i class=a></i><i class=c></i><i class=b></i><i class=d></i><i class=a></i><i class=c></i><i class=b></i><i class=c></i><i class=b></i><i class=c></i><i class=b></i><i class=c></i><i class=b></i><i class=g></i><i class=f></i><i class=e></i></div>
<div style="top:495.9px"><i class=d></i><i class=d></i><i class=i></i><i class=d></i><i class=d></i><i class=d></i><i class=d></i><i class=d></i><i class=d></i><i class=d></i><i class=k></i><i class=k></i><i class=d></i><i class=d></i><i class=d></i><i class=d></i><i class=d></i><i class=d></i><i class=d></i><i class=d></i><i class=d></i><i class=d></i><i class=d></i><i class=d></i><i class=d></i><i class=d></i><i class=d></i><i class=d></i><i class=d></i><i class=d></i></div>
<div style="top:522.7px"><i class=i></i><i class=g></i><i class=h></i><i class=b></i><i class=e></i><i class=e></i><i class=d></i><i class=c></i><i class=h></i><i class=h></i><i class=j></i><i class=g></i><i class=e></i><i class=f></i><i class=d></i><i class=a></i><i class=e></i><i class=c></i><i class=d></i><i class=b></i><i class=c></i><i class=c></i><i class=i></i><i class=f></i><i class=g></i><i class=c></i><i class=c></i><i class=a></i><i class=b></i><i class=b></i></div>
<div style="top:549.5px"><i class=j></i><i class=e></i><i class=j></i><i class=b></i><i class=c></i><i class=c></i><i class=f></i><i class=c></i><i class=h></i><i class=h></i><i class=g></i><i class=h></i><i class=h></i><i class=d></i><i class=e></i><i class=b></i><i class=b></i><i class=b></i><i class=d></i><i class=b></i><i class=g></i><i class=g></i><i class=e></i><i class=e></i><i class=e></i><i class=c></i><i class=e></i><i class=b></i><i class=b></i><i class=b></i></div>
<div style="top:581.3px"><i class=h></i><i class=d></i><i class=d></i><i class=d></i><i class=d></i><i class=d></i><i class=d></i><i class=d></i><i class=h></i><i class=d></i><i class=d></i><i class=d></i><i class=d></i><i class=i></i><i class=i></i><i class=d></i><i class=d></i><i class=d></i><i class=d></i><i class=d></i><i class=d></i><i class=d></i><i class=k></i><i class=d></i><i class=d></i><i class=d></i><i class=d></i><i class=d></i><i class=d></i><i class=d></i></div>
<div style="top:608.1px"><i class=g></i><i class=d></i><i class=c></i><i class=e></i><i class=j></i><i class=c></i><i class=c></i><i class=b></i><i class=h></i><i class=g></i><i class=i></i><i class=i></i><i class=e></i><i class=f></i><i class=d></i><i class=c></i><i class=b></i><i class=b></i><i class=b></i><i class=b></i><i class=b></i><i class=c></i><i class=e></i><i class=g></i><i class=d></i><i class=d></i><i class=c></i><i class=c></i><i class=i></i><i class=d></i></div>
<div style="top:634.9px"><i class=c></i><i class=f></i><i class=e></i><i class=g></i><i class=i></i><i class=g></i><i class=f></i><i class=d></i><i class=k></i><i class=i></i><i class=i></i><i class=f></i><i class=e></i><i class=f></i><i class=b></i><i class=c></i><i class=c></i><i class=c></i><i class=c></i><i class=c></i><i class=b></i><i class=c></i><i class=g></i><i class=f></i><i class=d></i><i class=c></i><i class=b></i><i class=c></i><i class=c></i><i class=c></i></div>
<div style="top:661.7px"><i class=c></i><i class=c></i><i class=c></i><i class=h></i><i class=h></i><i class=h></i><i class=c></i><i class=f></i><i class=i></i><i class=g></i><i class=h></i><i class=d></i><i class=e></i><i class=f></i><i class=a></i><i class=b></i><i class=b></i><i class=c></i><i class=c></i><i class=c></i><i class=b></i><i class=a></i><i class=h></i><i class=h></i><i class=b></i><i class=d></i><i class=c></i><i class=e></i><i class=j></i><i class=f></i></div>
<div style="top:688.5px"><i class=c></i><i class=c></i><i class=b></i><i class=c></i><i class=g></i><i class=d></i><i class=c></i><i class=c></i><i class=g></i><i class=h></i><i class=i></i><i class=f></i><i class=h></i><i class=c></i><i class=b></i><i class=c></i><i class=b></i><i class=d></i><i class=d></i><i class=d></i><i class=b></i><i class=b></i><i class=k></i><i class=j></i><i class=e></i><i class=d></i><i class=f></i><i class=e></i><i class=e></i><i class=f></i></div>
<div style="top:715.3px"><i class=d></i><i class=c></i><i class=e></i><i class=a></i><i class=d></i><i class=e></i><i class=h></i><i class=e></i><i class=j></i><i class=h></i><i class=i></i><i class=i></i><i class=e></i><i class=h></i><i class=c></i><i class=b></i><i class=a></i><i class=b></i><i class=e></i><i class=c></i><i class=b></i><i class=b></i><i class=f></i><i class=i></i><i class=g></i><i class=g></i><i class=b></i><i class=b></i><i class=b></i><i class=c></i></div>
<div style="top:742.1px"><i class=c></i><i class=c></i><i class=d></i><i class=b></i><i class=d></i><i class=f></i><i class=d></i><i class=c></i><i class=j></i><i class=j></i><i class=i></i><i class=d></i><i class=d></i><i class=c></i><i class=d></i><i class=a></i><i class=d></i><i class=d></i><i class=c></i><i class=e></i><i class=d></i><i class=c></i><i class=i></i><i class=i></i><i class=f></i><i class=g></i><i class=c></i><i class=a></i><i class=b></i><i class=e></i></div>
<div style="top:768.9px"><i class=f></i><i class=d></i><i class=e></i><i class=b></i><i class=e></i><i class=e></i><i class=e></i><i class=b></i><i class=j></i><i class=j></i><i class=g></i><i class=f></i><i class=d></i><i class=e></i><i class=c></i><i class=b></i><i class=b></i><i class=b></i><i class=d></i><i class=c></i><i class=c></i><i class=b></i><i class=j></i><i class=i></i><i class=e></i><i class=d></i><i class=c></i><i class=b></i><i class=b></i><i class=c></i></div>
<div style="top:795.7px"><i class=e></i><i class=d></i><i class=d></i><i class=b></i><i class=f></i><i class=d></i><i class=d></i><i class=c></i><i class=j></i><i class=j></i><i class=j></i><i class=g></i><i class=f></i><i class=e></i><i class=b></i><i class=b></i><i class=b></i><i class=b></i><i class=d></i><i class=c></i><i class=b></i><i class=c></i><i class=h></i><i class=h></i><i class=d></i><i class=e></i><i class=c></i><i class=b></i><i class=b></i><i class=c></i></div>
<div style="top:822.5px"><i class=g></i><i class=d></i><i class=f></i><i class=b></i><i class=c></i><i class=c></i><i class=d></i><i class=c></i><i class=j></i><i class=j></i><i class=i></i><i class=g></i><i class=g></i><i class=d></i><i class=c></i><i class=b></i><i class=b></i><i class=b></i><i class=d></i><i class=c></i><i class=d></i><i class=e></i><i class=h></i><i class=h></i><i class=e></i><i class=d></i><i class=e></i><i class=b></i><i class=b></i><i class=c></i></div>
<div style="top:849.3px"><i class=g></i><i class=b></i><i class=d></i><i class=b></i><i class=d></i><i class=d></i><i class=d></i><i class=c></i><i class=j></i><i class=j></i><i class=i></i><i class=g></i><i class=h></i><i class=c></i><i class=b></i><i class=b></i><i class=b></i><i class=b></i><i class=c></i><i class=c></i><i class=f></i><i class=f></i><i class=h></i><i class=h></i><i class=f></i><i class=d></i><i class=e></i><i class=b></i><i class=b></i><i class=c></i></div>
<div style="top:876.1px"><i class=h></i><i class=e></i><i class=f></i><i class=b></i><i class=d></i><i class=c></i><i class=g></i><i class=d></i><i class=k></i><i class=j></i><i class=h></i><i class=g></i><i class=g></i><i class=d></i><i class=c></i><i class=b></i><i class=b></i><i class=b></i><i class=c></i><i class=c></i><i class=b></i><i class=c></i><i class=g></i><i class=h></i><i class=d></i><i class=d></i><i class=c></i><i class=b></i><i class=c></i><i class=b></i></div>
</div>
</div></body></html>
